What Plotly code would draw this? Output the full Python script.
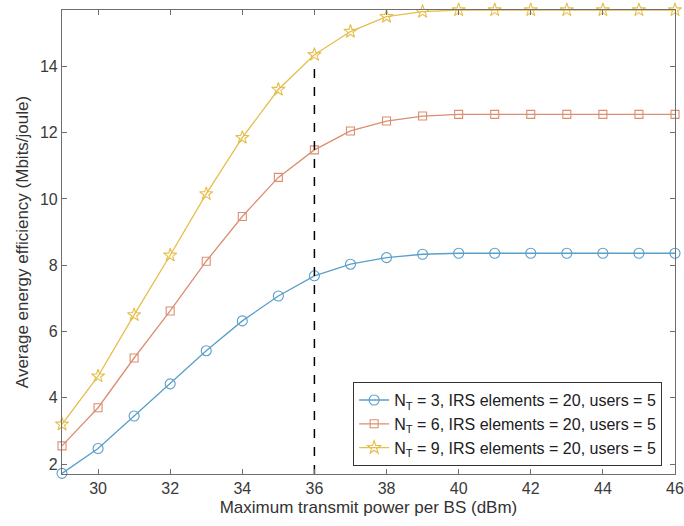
import plotly.graph_objects as go

power_dbm = [29, 30, 31, 32, 33, 34, 35, 36, 37, 38, 39, 40, 41, 42, 43, 44, 45, 46]
ee_nt3 = [1.72, 2.47, 3.45, 4.42, 5.42, 6.32, 7.07, 7.68, 8.03, 8.23, 8.33, 8.36, 8.36, 8.36, 8.36, 8.36, 8.36, 8.36]
ee_nt6 = [2.55, 3.70, 5.20, 6.62, 8.12, 9.47, 10.65, 11.48, 12.05, 12.35, 12.50, 12.55, 12.55, 12.55, 12.55, 12.55, 12.55, 12.55]
ee_nt9 = [3.20, 4.65, 6.50, 8.30, 10.15, 11.85, 13.30, 14.35, 15.05, 15.50, 15.65, 15.70, 15.70, 15.70, 15.70, 15.70, 15.70, 15.70]
series_names = ["N<sub>T</sub> = 3, IRS elements = 20, users = 5",
                "N<sub>T</sub> = 6, IRS elements = 20, users = 5",
                "N<sub>T</sub> = 9, IRS elements = 20, users = 5"]
marker_line_x = [36, 36]
marker_line_y = [1.7, 14.0]

colors = ["#5a9fc9", "#dc8e70", "#e5be4c"]
symbols = ["circle-open", "square-open", "star-open"]
sizes = [10, 8, 10]

FONT = "Liberation Sans, Arial, sans-serif"

fig = go.Figure()
for ys, name, c, s, sz in zip([ee_nt3, ee_nt6, ee_nt9], series_names, colors, symbols, sizes):
    fig.add_trace(go.Scatter(
        x=power_dbm, y=ys, name=name, mode="lines+markers", cliponaxis=False,
        line=dict(color=c, width=1.3),
        marker=dict(symbol=s, size=sz, color=c, line=dict(color=c, width=1.1)),
    ))
fig.add_trace(go.Scatter(
    x=marker_line_x, y=marker_line_y, mode="lines", showlegend=False,
    line=dict(color="black", width=1.5, dash="dash"), hoverinfo="skip",
))

axis_common = dict(
    showline=True, linecolor="#6e6e6e", linewidth=1.2, mirror="ticks",
    ticks="inside", ticklen=5, tickcolor="#6e6e6e", showgrid=False, zeroline=False,
    automargin=False, ticklabeloverflow="allow",
    tickfont=dict(family=FONT, size=16, color="#3a3a3a"),
)
fig.update_layout(
    width=684, height=526,
    margin=dict(l=62, r=9, t=10, b=52),
    plot_bgcolor="white", paper_bgcolor="white",
    xaxis=dict(range=[29, 46], tickvals=[30, 32, 34, 36, 38, 40, 42, 44, 46],
               title=dict(text="Maximum transmit power per BS (dBm)", standoff=4,
                          font=dict(family=FONT, size=17, color="#333333")),
               **axis_common),
    yaxis=dict(range=[1.7, 15.7], tickvals=[2, 4, 6, 8, 10, 12, 14],
               title=dict(text="Average energy efficiency (Mbits/joule)", standoff=6,
                          font=dict(family=FONT, size=17, color="#333333")),
               **axis_common),
    legend=dict(x=0.979, y=0.017, xanchor="right", yanchor="bottom",
                bgcolor="white", bordercolor="#333333", borderwidth=1,
                font=dict(family=FONT, size=16, color="#202020"),
                tracegroupgap=0, itemwidth=30),
)
# remove the page's default body margin so the figure sits at the window's corner
fig.write_html("out.html",
               config={"displayModeBar": False},
               post_script="document.body.style.margin='0';document.documentElement.style.overflow='hidden';")
